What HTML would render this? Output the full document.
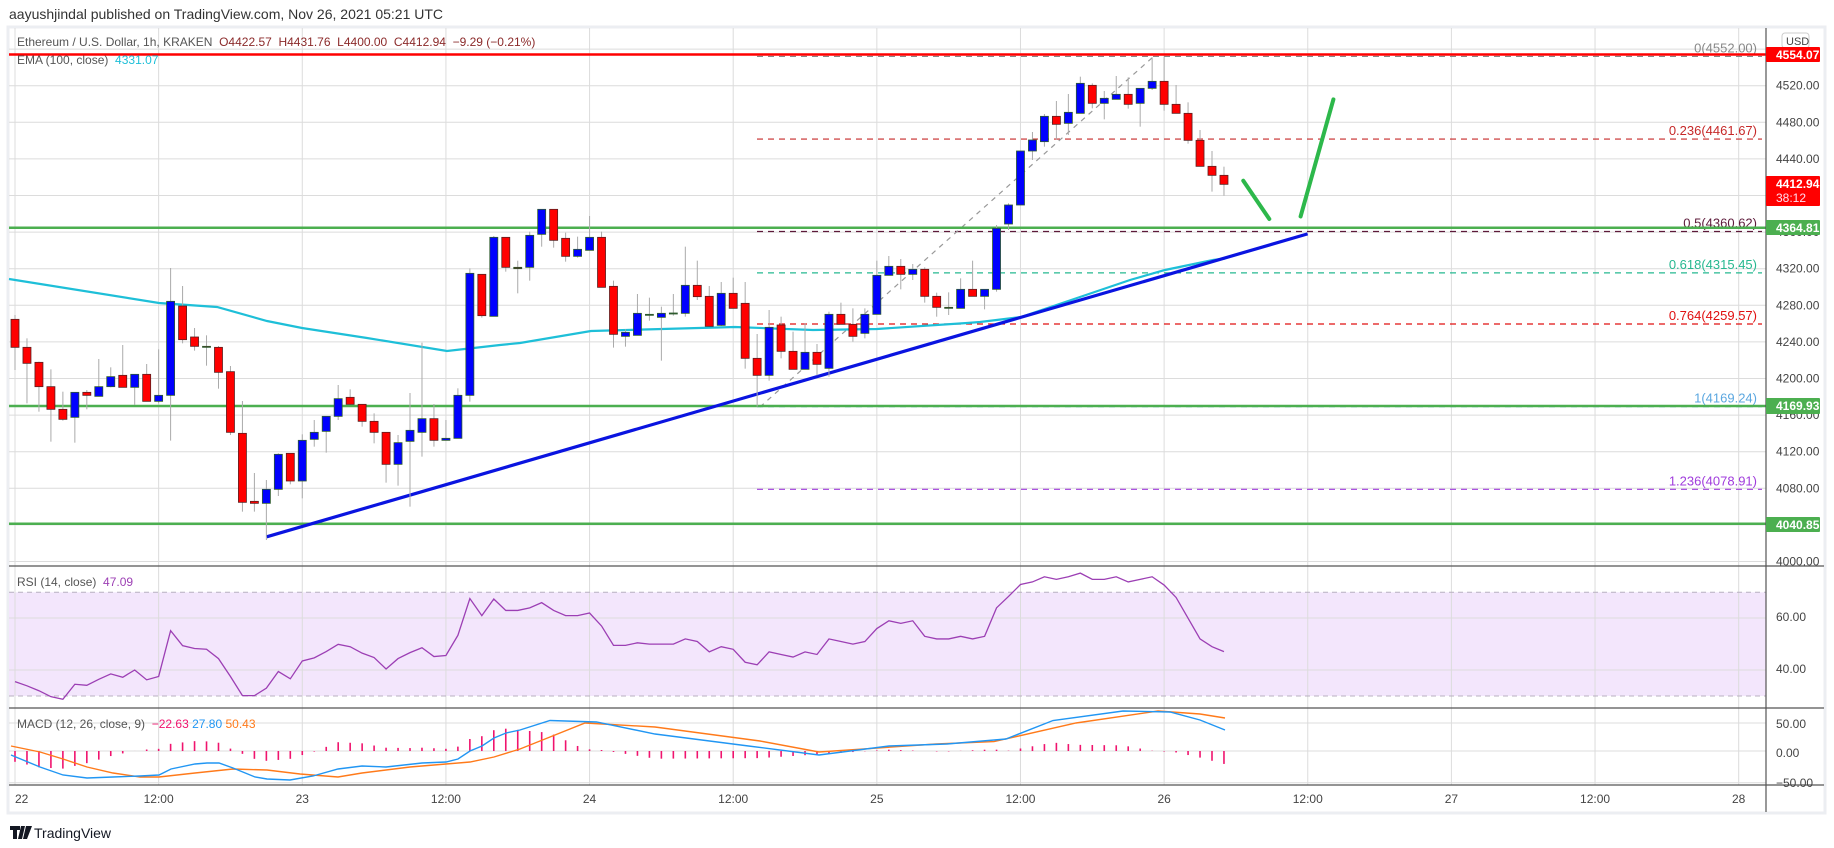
<!DOCTYPE html>
<html><head><meta charset="utf-8">
<style>
html,body{margin:0;padding:0;background:#fff;}
svg{display:block;}
text{font-family:"Liberation Sans",sans-serif;}
</style></head>
<body>
<svg id="s" width="1834" height="848" viewBox="0 0 1834 848" xmlns="http://www.w3.org/2000/svg">
<rect width="1834" height="848" fill="#fff"/>
<text x="9" y="19" font-size="14" fill="#333">aayushjindal published on TradingView.com, Nov 26, 2021 05:21 UTC</text>
<rect x="8" y="27" width="1817" height="786" fill="#fff" stroke="#eceef2" stroke-width="3"/>
<rect x="9" y="592.3" width="1757" height="103.7" fill="#f3e6fc"/>
<g id="grid" stroke="#dcdcdc" stroke-width="1"></g>
<g id="fib"></g>
<g id="lines"></g>
<g id="cand"></g>
<g id="ind"></g>
<g id="ax"></g>
</svg>
<script>
const NS="http://www.w3.org/2000/svg";
function el(p,t,a,txt){const e=document.createElementNS(NS,t);for(const k in a)e.setAttribute(k,a[k]);if(txt!==undefined)e.textContent=txt;document.getElementById(p).appendChild(e);return e;}
const X=h=>15+11.97*h;
const PY=p=>227.7+(4364.81-p)*0.915;
const R=1766;
for(let i=0;i<=13;i++){const x=X(i*12);el('grid','line',{x1:x,y1:28,x2:x,y2:785});}
for(let p=4000;p<=4560;p+=40){const y=PY(p);el('grid','line',{x1:9,y1:y,x2:R,y2:y});}
[618,670].forEach(y=>el('grid','line',{x1:9,y1:y,x2:R,y2:y}));
[723,751,782.7].forEach(y=>el('grid','line',{x1:9,y1:y,x2:R,y2:y}));
el('grid','line',{x1:9,y1:592.3,x2:R,y2:592.3,stroke:'#b8b0c0','stroke-dasharray':'5,4'});
el('grid','line',{x1:9,y1:696,x2:R,y2:696,stroke:'#b8b0c0','stroke-dasharray':'5,4'});
const fibs=[[4552,'0(4552.00)','#888'],[4461.67,'0.236(4461.67)','#c62828'],[4360.62,'0.5(4360.62)','#5d1a3a'],[4315.45,'0.618(4315.45)','#26b890'],[4259.57,'0.764(4259.57)','#e01010'],[4169.24,'1(4169.24)','#5ba7e0'],[4078.91,'1.236(4078.91)','#a03cdc']];
fibs.forEach(f=>{const y=PY(f[0]);el('fib','line',{x1:757,y1:y,x2:R-4,y2:y,stroke:f[2],'stroke-width':1.2,'stroke-dasharray':'6,5'});
el('fib','text',{x:R-9,y:y-4,'font-size':13,fill:f[2],'text-anchor':'end'},f[1]);});
el('fib','line',{x1:760,y1:407,x2:1153,y2:57,stroke:'#999','stroke-width':1.2,'stroke-dasharray':'5,5'});
el('lines','line',{x1:9,y1:54.5,x2:R,y2:54.5,stroke:'#f00','stroke-width':2.5});
[227.7,406,523.7].forEach(y=>el('lines','line',{x1:9,y1:y,x2:R,y2:y,stroke:'#4caf50','stroke-width':2.5}));
const ema=[[9,279],[159,303],[217,307],[267,321],[302,328],[367,338],[447,351],[500,345],[520,343],[591,331],[735,327],[813,330],[877,329],[967,323],[980,322],[1021,317],[1080,297],[1130,280],[1165,270],[1213,260],[1225,258.5]];
el('lines','polyline',{points:ema.map(p=>p.join(',')).join(' '),fill:'none',stroke:'#1ebfd8','stroke-width':2.2});
const c5=[[0,'r',388,472,375,540],[1,'r',472,520,445,640],[2,'r',517,590,515,665],[3,'r',590,658,538,755],[4,'r',658,688,605,692],[5,'b',607,682,607,758],[6,'r',607,616,600,658],[7,'b',590,619,507,619],[8,'b',560,590,532,592],[9,'r',556,592,465,592],[10,'b',553,592,553,645],[11,'r',553,634,522,634],[12,'b',616,634,478,640],[13,'b',334,616,234,752],[14,'r',348,449,288,460],[15,'r',441,469,414,482],[16,'d',469,472,436,527],[17,'r',472,547,468,596],[18,'r',545,727,528,735],[19,'r',730,937,633,965],[20,'r',934,940,849,965],[21,'b',898,940,870,1050],[22,'b',793,898,790,918],[23,'r',790,873,790,883],[24,'b',751,873,733,925],[25,'b',727,748,690,770],[26,'b',679,724,679,788],[27,'b',626,679,585,690],[28,'r',622,643,598,645],[29,'r',643,694,643,710],[30,'r',694,727,670,760],[31,'r',727,823,727,878],[32,'b',758,823,735,887],[33,'b',721,754,609,950],[34,'b',686,727,458,800],[35,'r',686,751,642,770],[36,'b',745,751,690,751],[37,'b',616,745,595,745],[38,'b',250,616,235,635],[39,'r',253,377,253,383],[40,'b',142,379,138,379],[41,'r',142,232,142,245],[42,'d',232,236,212,310]];
const c6=[[43,'b',136,232,125,272],[44,'b',58,133,58,170],[45,'r',58,151,58,173],[46,'r',145,199,128,215],[47,'b',178,199,140,203],[48,'b',142,181,78,181],[49,'r',142,292,125,292],[50,'r',289,433,272,473],[51,'b',427,439,418,470],[52,'b',370,436,312,436],[53,'g',373,376,323,392],[54,'b',370,382,350,512],[55,'g',369,372,312,377],[56,'b',286,370,170,380],[57,'r',286,320,212,330],[58,'r',319,409,288,409],[59,'b',310,406,276,408],[60,'r',310,355,263,355],[61,'r',340,505,276,536],[62,'r',505,556,432,650],[63,'b',412,556,360,572],[64,'r',405,484,380,505],[65,'r',484,538,425,538],[66,'b',487,538,400,538],[67,'r',487,523,462,556],[68,'b',373,535,365,560],[69,'r',373,403,338,403],[70,'r',403,439,355,455],[71,'b',373,430,355,445],[72,'b',256,373,212,373],[73,'b',229,256,198,256],[74,'r',229,253,207,298],[75,'b',238,253,222,270],[76,'r',238,319,232,338],[77,'r',319,352,308,380],[78,'d',352,355,307,375],[79,'b',298,355,265,355],[80,'r',298,319,212,319],[81,'b',298,319,298,358]];
const c7=[[82,'b',565,748,555,755],[83,'b',495,552,490,570],[84,'b',333,495,333,495],[85,'b',300,333,276,360],[86,'b',229,305,222,320],[87,'r',229,253,183,298],[88,'b',217,250,162,285],[89,'b',130,220,110,220],[90,'r',136,190,130,205],[91,'b',175,190,153,238],[92,'b',163,178,108,178],[93,'r',163,193,112,206],[94,'b',145,190,145,260],[95,'b',124,145,52,150],[96,'r',124,193,50,212],[97,'r',193,220,135,220],[98,'r',220,301,187,311],[99,'r',301,379,270,379],[100,'r',379,406,333,455],[101,'r',406,433,380,467]];
function draw(arr,off){arr.forEach(c=>{const x=X(c[0]);const bt=off+c[2]/3,bb=off+c[3]/3,wt=off+c[4]/3,wb=off+c[5]/3;
el('cand','line',{x1:x,y1:wt,x2:x,y2:wb,stroke:'#aaa','stroke-width':1});
const col={r:'#ff0000',b:'#0000ff',d:'#6b1a1a',g:'#2e5e2e'}[c[1]];
el('cand','rect',{x:x-4,y:bt,width:8,height:Math.max(1,bb-bt),fill:col,stroke:c[1]=='r'?'#5a1f1f':'#2d5a2d','stroke-width':0.8});});}
draw(c5,190);draw(c6,190);draw(c7,40);
el('lines','line',{x1:266.7,y1:536.8,x2:1307.6,y2:233.9,stroke:'#0a14e0','stroke-width':3.2});
el('ind','line',{x1:1243.3,y1:180.7,x2:1269.3,y2:219,stroke:'#2db84b','stroke-width':4,'stroke-linecap':'round'});
el('ind','line',{x1:1300.6,y1:216.4,x2:1333.4,y2:99.4,stroke:'#2db84b','stroke-width':4,'stroke-linecap':'round'});
const rsi=[35.5,33.9,32,29.7,28.7,34.5,34.1,36.4,38.5,37.2,40,36.2,37.5,55.2,49.4,48.3,48,44.4,37.5,30.1,30.1,33,39.4,36.6,43.5,44.7,47.1,49.9,49,46.5,44.8,40.4,44.4,46.7,48.6,45.2,45.6,53.4,67.6,61,67.4,63,63,64,66,63,61,61,62,57,49.5,49.5,50.5,50,50,50,52,51,47,49,48,43,42,47,46,45,47,46,52,51,50,51,56,59,58,59,53,52,52,53,52,53,64,68.4,73,74,76,75,76,77.4,75,75,76,74,75,76,72.8,68,60,52,49,47.09];
el('ind','polyline',{points:rsi.map((v,i)=>X(i)+','+(592.3+(70-v)*2.59)).join(' '),fill:'none',stroke:'#9c3fb4','stroke-width':1.3});
const blue=[[11,755],[40,767],[63,775],[87,778],[113,777],[140,776],[159,775],[171,769],[195,764],[207,763],[219,763],[233,768],[255,777],[267,779],[290,780],[313,776],[338,769],[362,766],[386,767],[422,763],[446,762],[458,759],[470,751],[482,746],[494,738],[506,733],[520,730],[550,720.5],[596.5,722],[655,734],[748.5,746],[819,755],[889,746],[947,744],[1006,739],[1053,720.5],[1123,711],[1170,712],[1200,720],[1225,730]];
const orng=[[11,746],[40,752],[63,759],[87,767],[113,773],[140,777],[159,777],[195,773],[233,769],[267,770],[300,774],[338,777],[362,773],[410,767],[446,764],[470,762],[494,757],[520,749],[550,737],[585,723],[655,727],[760,741],[819,752],[936,744],[994,741.6],[1076,723],[1158,711],[1200,714],[1225,718]];
function interp(a,x){for(let i=0;i<a.length-1;i++){if(x>=a[i][0]&&x<=a[i+1][0]){const t=(x-a[i][0])/(a[i+1][0]-a[i][0]);return a[i][1]+t*(a[i+1][1]-a[i][1]);}}return x<a[0][0]?a[0][1]:a[a.length-1][1];}
for(let h=0;h<=101;h++){const x=X(h);const d=(interp(orng,x)-interp(blue,x))*1.1;el('ind','line',{x1:x,y1:751,x2:x,y2:751-d,stroke:'#f0146e','stroke-width':1.6});}
el('ind','polyline',{points:orng.map(p=>p.join(',')).join(' '),fill:'none',stroke:'#ff7a1a','stroke-width':1.4});
el('ind','polyline',{points:blue.map(p=>p.join(',')).join(' '),fill:'none',stroke:'#2196f3','stroke-width':1.4});
[566,708,785].forEach(y=>el('ax','line',{x1:9,y1:y,x2:1824,y2:y,stroke:'#555','stroke-width':1.2}));
el('ax','line',{x1:R,y1:28,x2:R,y2:812,stroke:'#555','stroke-width':1.2});
for(let p=4000;p<=4520;p+=40){el('ax','text',{x:1776,y:PY(p)+4,'font-size':12,fill:'#444'},p.toFixed(2));}
[[620,'60.00'],[672,'40.00'],[727,'50.00'],[756,'0.00'],[786,'\u221250.00']].forEach(t=>el('ax','text',{x:1776,y:t[0]+1,'font-size':12,fill:'#444'},t[1]));
function tag(y,h,col,txt,txt2){el('ax','rect',{x:R,y:y,width:54,height:h,fill:col,rx:1});el('ax','text',{x:1776,y:y+12,'font-size':12,'font-weight':'bold',fill:'#fff'},txt);if(txt2)el('ax','text',{x:1776,y:y+26,'font-size':12,fill:'#fde'},txt2);}
el('ax','rect',{x:1767,y:33,width:56,height:14,fill:'#fff'});
el('ax','rect',{x:1782,y:33,width:27,height:15,fill:'#fff',stroke:'#ccc',rx:3});
el('ax','text',{x:1786,y:45,'font-size':11,fill:'#444'},'USD');
tag(47,15,'#f00','4554.07');
tag(176,30,'#f00','4412.94','38:12');
tag(220,15,'#4caf50','4364.81');
tag(398,16,'#4caf50','4169.93');
tag(517,15,'#4caf50','4040.85');
const tl=['22','12:00','23','12:00','24','12:00','25','12:00','26','12:00','27','12:00','28'];
tl.forEach((t,i)=>el('ax','text',{x:X(i*12),y:803,'font-size':12,fill:'#444','text-anchor':i==0?'start':'middle'},t));
const lg=el('ax','text',{x:17,y:46,'font-size':12,fill:'#555'});
lg.innerHTML='Ethereum / U.S. Dollar, 1h, KRAKEN <tspan fill="#8b2a2a">&#160;O4422.57 &#160;H4431.76 &#160;L4400.00 &#160;C4412.94 &#160;\u22129.29 (\u22120.21%)</tspan>';
const lg2=el('ax','text',{x:17,y:64,'font-size':12,fill:'#555'});lg2.innerHTML='EMA (100, close) <tspan fill="#1ebfd8">&#160;4331.07</tspan>';
const lg3=el('ax','text',{x:17,y:586,'font-size':12,fill:'#555'});lg3.innerHTML='RSI (14, close) <tspan fill="#9c3fb4">&#160;47.09</tspan>';
const lg4=el('ax','text',{x:17,y:728,'font-size':12,fill:'#555'});lg4.innerHTML='MACD (12, 26, close, 9) <tspan fill="#f0146e">&#160;\u221222.63</tspan><tspan fill="#2196f3">&#160;27.80</tspan><tspan fill="#ff7a1a">&#160;50.43</tspan>';
el('ax','path',{d:'M10 826 h10 v4 h-3 v9 h-4 v-9 h-3z M21 826 h4 l-3 13 h-4z M26 826 h6 l-5 13 h-4z',fill:'#131722'});
el('ax','text',{x:34,y:838,'font-size':14,fill:'#131722'},'TradingView');
</script>
</body></html>
